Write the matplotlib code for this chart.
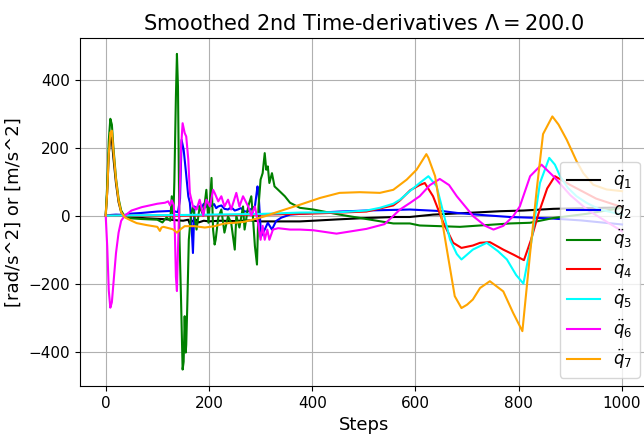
import numpy as np
import matplotlib
matplotlib.use("Agg")
import matplotlib.pyplot as plt

lam = 200.0

# joint accelerations, sampled at the listed steps
q1_steps = [0, 3, 6, 9, 12, 15, 20, 25, 30, 37, 50, 80, 110, 140, 150, 160, 163, 166, 170, 175,
            180, 190, 200, 220, 250, 280, 300, 340, 376, 402, 450, 505, 560, 589, 634, 700,
            764, 809, 867, 920, 1000]
q1_vals = [0, 70, 180, 232, 222, 170, 95, 40, 10, -3, -5, -8, -10, -14, -15, -12, -25, -14, -18, -12,
           -20, -15, -17, -15, -16, -14, -17, -17, -17, -15, -11, -7, -4, -4, 3, 8,
           13, 15, 20, 22, 24]

q2_steps = [0, 10, 20, 37, 50, 70, 100, 130, 140, 144, 147, 151, 155, 160, 163, 166, 169, 172, 176,
            179, 185, 190, 194, 198, 204, 210, 214, 218, 224, 230, 237, 243, 250, 256, 262, 269,
            276, 282, 289, 294, 296, 301, 308, 314, 322, 330, 340, 357, 402, 453, 505, 589,
            654, 680, 718, 783, 860, 920, 1000]
q2_vals = [0, 2, 3, 2, 6, 8, 12, 14, 10, 50, 223, 194, 135, 57, 38, -20, -110, 27, 20,
           30, 22, 35, 25, 38, 28, 34, 22, 27, 30, 20, 18, 25, 15, 18, 22, 12,
           13, 20, 27, 86, 67, -61, -41, -21, -41, -16, -6, 3, 8, 12, 15, 18,
           13, 8, 3, -4, -8, -14, -26]

q3_steps = [0, 3, 6, 9, 12, 15, 20, 25, 30, 37, 50, 70, 100, 110, 118, 125, 128, 131, 133, 136,
            138, 140, 143, 146, 149, 151, 153, 155, 156, 158, 161, 165, 169, 176, 182, 189, 195,
            199, 205, 208, 211, 213, 218, 224, 230, 237, 243, 250, 253, 259, 266, 269, 276, 282,
            285, 289, 293, 296, 300, 304, 308, 311, 314, 317, 322, 327, 334, 347, 357, 376, 402,
            453, 505, 557, 589, 608, 686, 783, 822, 867, 930, 1000]
q3_vals = [0, 90, 220, 285, 268, 200, 110, 50, 15, -3, -8, -10, -12, -20, -5, -15, 57, -10, 100, 350,
           476, 380, -71, -250, -453, -430, -296, -403, -380, -267, -71, 0, 27, -41, 27, 0, 76,
           -21, 111, -41, -85, -71, -6, 18, -50, -2, -21, -100, 0, -35, 27, -41, 27, 57,
           0, -90, -144, 27, 106, 125, 184, 135, 145, 96, 125, 86, 76, 57, 38, 23, 18,
           3, -10, -23, -23, -29, -33, -23, -21, -7, 5, 23]

q4_steps = [0, 150, 300, 400, 505, 557, 570, 590, 608, 618, 634, 654, 673, 689, 711, 725, 744, 770,
            790, 810, 824, 838, 855, 870, 900, 950, 1000]
q4_vals = [0, 0, 3, 6, 12, 30, 45, 75, 90, 96, 57, -21, -80, -95, -88, -80, -78, -100,
           -115, -131, -70, 5, 80, 116, 90, 50, 25]

q5_steps = [0, 150, 300, 376, 453, 505, 531, 557, 570, 589, 608, 625, 641, 654, 667, 680, 689, 711,
            738, 760, 777, 795, 809, 824, 841, 859, 870, 880, 895, 912, 932, 957, 1000]
q5_vals = [0, 2, 5, 9, 10, 15, 23, 35, 47, 72, 96, 116, 86, 8, -71, -113, -129, -100,
           -80, -105, -129, -175, -200, -80, 96, 170, 150, 116, 82, 57, 37, 18, 3]

q6_steps = [0, 3, 6, 9, 12, 15, 20, 25, 30, 37, 50, 70, 100, 115, 121, 125, 128, 132, 134, 136,
            138, 140, 143, 146, 149, 153, 156, 160, 163, 169, 176, 182, 189, 195, 202, 208, 211,
            218, 224, 230, 237, 243, 253, 259, 266, 276, 282, 289, 295, 300, 304, 308, 313, 317,
            324, 334, 357, 376, 402, 447, 505, 540, 570, 590, 608, 628, 647, 665, 680, 712, 735,
            751, 770, 789, 802, 822, 844, 867, 900, 932, 1000]
q6_vals = [0, -90, -220, -271, -255, -200, -110, -50, -15, 0, 15, 25, 35, 38, 42, 30, 45, 30, -50, -180,
           -222, -100, 50, 200, 272, 243, 233, 165, 67, 27, 18, 47, 0, 47, 27, 76, 67,
           42, 57, 27, 47, 18, 67, 27, 57, 27, 0, 27, -20, -71, -30, -71, -41, -71,
           -41, -37, -41, -41, -43, -53, -39, -25, 18, 38, 57, 90, 108, 90, 57, -2, -30,
           -41, -30, -2, 27, 116, 150, 116, 60, 18, -46]

q7_steps = [0, 3, 6, 9, 12, 15, 20, 25, 30, 37, 50, 60, 80, 100, 105, 108, 112, 130, 138, 145,
            153, 172, 192, 211, 230, 250, 269, 289, 308, 327, 347, 376, 415, 453, 492, 531, 557,
            583, 602, 621, 625, 638, 650, 663, 676, 689, 700, 711, 725, 744, 770, 789, 807, 822,
            835, 847, 865, 877, 893, 912, 925, 944, 970, 1000]
q7_vals = [0, 70, 180, 245, 250, 190, 105, 45, 10, -5, -15, -22, -28, -33, -45, -35, -33, -40, -50, -40,
           -31, -31, -35, -31, -23, -21, -18, -10, -2, 8, 18, 32, 52, 67, 69, 67, 76,
           106, 135, 181, 170, 116, -2, -120, -237, -272, -262, -247, -213, -193, -223, -286, -340, -110,
           80, 240, 292, 268, 223, 160, 125, 91, 77, 72]

series = [
    (q1_steps, q1_vals, "black", r"$\ddot{q}_1$"),
    (q2_steps, q2_vals, "blue", r"$\ddot{q}_2$"),
    (q3_steps, q3_vals, "green", r"$\ddot{q}_3$"),
    (q4_steps, q4_vals, "red", r"$\ddot{q}_4$"),
    (q5_steps, q5_vals, "cyan", r"$\ddot{q}_5$"),
    (q6_steps, q6_vals, "magenta", r"$\ddot{q}_6$"),
    (q7_steps, q7_vals, "orange", r"$\ddot{q}_7$"),
]

fig = plt.figure(figsize=(6.44, 4.36), dpi=100)
ax = fig.add_axes([0.124, 0.115, 0.882, 0.798])

for steps, vals, color, label in series:
    ax.plot(np.array(steps), np.array(vals), color=color, lw=1.5, label=label)

ax.set_xlim(-50, 1050)
ax.set_ylim(-501, 523)
ax.set_xticks([0, 200, 400, 600, 800, 1000])
ax.set_yticks([-400, -200, 0, 200, 400])
ax.tick_params(labelsize=11)
ax.grid(True)

ax.set_title(r"Smoothed 2nd Time-derivatives $\Lambda = $" + f"{lam}", fontsize=15)
ax.set_xlabel("Steps", fontsize=13)
ax.set_ylabel("[rad/s^2] or [m/s^2]", fontsize=13)
ax.legend(loc="lower right", fontsize=12, labelspacing=0.4)

fig.savefig("out.png", dpi=100)
